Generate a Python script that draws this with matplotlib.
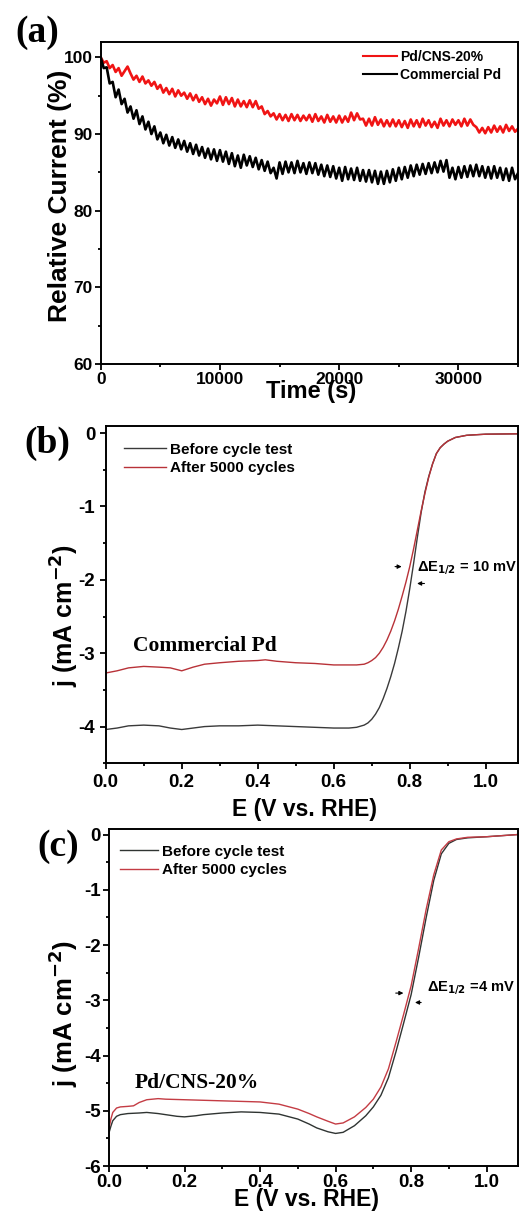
import numpy as np
import matplotlib
matplotlib.use('Agg')
import matplotlib.pyplot as plt
from matplotlib.ticker import MultipleLocator
from matplotlib.lines import Line2D

plt.rcParams['font.family'] = ['Liberation Sans', 'DejaVu Sans']
plt.rcParams['font.weight'] = 'bold'
plt.rcParams['axes.labelweight'] = 'bold'
plt.rcParams['axes.unicode_minus'] = False
plt.rcParams['mathtext.default'] = 'bf'

# (a) chronoamperometry, sampled every 250 s
time_step = 250
red_current = [
    100.0, 99.3, 99.5, 98.6, 99.0, 98.1, 98.6, 97.6, 98.2, 98.8,
    97.9, 97.1, 97.6, 96.8, 97.5, 96.6, 97.0, 96.3, 96.8, 95.9,
    96.4, 95.4, 96.0, 95.2, 95.9, 94.9, 95.7, 95.0, 95.4, 94.6,
    95.3, 94.4, 95.1, 94.2, 94.8, 93.9, 94.6, 93.7, 94.5, 94.0,
    94.9, 93.8, 94.8, 93.9, 94.7, 93.6, 94.5, 93.6, 94.3, 93.5,
    94.4, 93.5, 94.3, 93.3, 93.6, 92.6, 93.0, 92.3, 92.7, 91.9,
    92.6, 91.8, 92.5, 91.7, 92.6, 91.8, 92.5, 91.7, 92.4, 91.8,
    92.5, 91.6, 92.6, 91.7, 92.3, 91.5, 92.5, 91.6, 92.3, 91.5,
    92.4, 91.5, 92.3, 91.6, 92.8, 91.8, 92.7, 91.9, 92.0, 91.1,
    92.0, 91.1, 92.2, 91.2, 91.9, 91.0, 91.8, 91.0, 91.9, 91.0,
    91.8, 90.9, 91.7, 90.8, 91.9, 91.0, 91.8, 90.9, 92.0, 91.1,
    91.8, 90.9, 91.6, 90.8, 92.0, 91.1, 91.8, 91.0, 91.9, 91.2,
    91.8, 91.0, 92.0, 91.1, 91.9, 91.2, 90.9, 90.2, 90.8, 90.1,
    90.9, 90.2, 91.1, 90.3, 91.0, 90.2, 91.2, 90.4, 91.0, 90.3,
    90.7,
]
black_current = [
    100.0, 98.6, 98.7, 96.6, 96.8, 94.8, 95.8, 93.9, 94.6, 92.8,
    93.6, 92.0, 93.1, 91.3, 92.3, 90.6, 91.6, 90.0, 91.0, 89.3,
    90.2, 88.8, 89.9, 88.5, 89.6, 88.2, 89.3, 88.0, 89.1, 87.7,
    88.8, 87.4, 88.6, 87.2, 88.3, 86.9, 88.1, 86.7, 88.0, 86.5,
    87.9, 86.4, 87.7, 86.1, 87.5, 85.8, 87.2, 85.6, 87.3, 85.9,
    87.1, 85.7, 86.9, 85.4, 86.6, 85.2, 86.4, 84.9, 85.6, 84.2,
    86.3, 84.8, 86.4, 85.0, 86.3, 84.9, 86.5, 85.0, 86.2, 84.8,
    86.3, 84.9, 86.2, 84.7, 86.0, 84.5, 85.9, 84.4, 85.8, 84.2,
    85.6, 83.9, 85.7, 84.1, 85.5, 84.0, 85.6, 83.9, 85.3, 83.8,
    85.3, 83.7, 85.2, 83.5, 85.1, 83.5, 85.2, 83.7, 85.4, 83.9,
    85.6, 84.1, 85.7, 84.3, 85.9, 84.5, 86.0, 84.7, 86.1, 84.8,
    86.2, 84.9, 86.3, 85.0, 86.5, 85.1, 86.6, 84.3, 85.6, 84.1,
    85.7, 84.3, 85.8, 84.4, 85.9, 84.5, 86.0, 84.5, 85.8, 84.3,
    85.7, 84.2, 85.8, 84.3, 85.6, 84.0, 85.5, 83.9, 85.6, 84.1,
    84.9,
]

# (b) commercial Pd LSV
b_before_E = [0.0, 0.03, 0.06, 0.1, 0.14, 0.17, 0.2, 0.23, 0.26, 0.3,
              0.35, 0.4, 0.45, 0.5, 0.55, 0.6, 0.64, 0.66, 0.68, 0.69,
              0.70, 0.71, 0.72, 0.73, 0.74, 0.75, 0.76, 0.77, 0.78, 0.79,
              0.80, 0.81, 0.82, 0.83, 0.84, 0.85, 0.86, 0.87, 0.88, 0.89,
              0.90, 0.92, 0.95, 1.0, 1.085]
b_before_j = [-4.04, -4.02, -3.99, -3.98, -3.99, -4.02, -4.04, -4.02, -4.00, -3.99,
              -3.99, -3.98, -3.99, -4.00, -4.01, -4.02, -4.02, -4.01, -3.98, -3.95,
              -3.90, -3.83, -3.74, -3.62, -3.48, -3.32, -3.14, -2.93, -2.70, -2.43,
              -2.12, -1.78, -1.42, -1.08, -0.80, -0.59, -0.42, -0.28, -0.20, -0.15,
              -0.11, -0.06, -0.03, -0.015, -0.01]
b_after_E = [0.0, 0.03, 0.06, 0.1, 0.14, 0.17, 0.2, 0.23, 0.26, 0.3,
             0.35, 0.4, 0.42, 0.45, 0.5, 0.55, 0.6, 0.64, 0.66, 0.68,
             0.69, 0.70, 0.71, 0.72, 0.73, 0.74, 0.75, 0.76, 0.77, 0.78,
             0.79, 0.80, 0.81, 0.82, 0.83, 0.84, 0.85, 0.86, 0.87, 0.88,
             0.89, 0.90, 0.92, 0.95, 1.0, 1.085]
b_after_j = [-3.27, -3.24, -3.20, -3.18, -3.19, -3.20, -3.24, -3.19, -3.15, -3.13,
             -3.11, -3.10, -3.09, -3.11, -3.13, -3.14, -3.16, -3.16, -3.16, -3.15,
             -3.13, -3.10, -3.06, -3.00, -2.92, -2.82, -2.70, -2.56, -2.40, -2.22,
             -2.03, -1.82, -1.58, -1.32, -1.06, -0.82, -0.60, -0.42, -0.28, -0.20,
             -0.15, -0.11, -0.06, -0.03, -0.015, -0.01]

# (c) Pd/CNS-20% LSV
c_before_E = [0.0, 0.005, 0.01, 0.02, 0.03, 0.05, 0.08, 0.1, 0.13, 0.15,
              0.18, 0.2, 0.23, 0.25, 0.3, 0.35, 0.4, 0.45, 0.5, 0.53,
              0.55, 0.58, 0.6, 0.62, 0.65, 0.68, 0.7, 0.72, 0.74, 0.76,
              0.78, 0.8, 0.82, 0.84, 0.86, 0.88, 0.9, 0.92, 0.95, 1.0,
              1.083]
c_before_j = [-5.40, -5.28, -5.18, -5.10, -5.07, -5.05, -5.04, -5.03, -5.05, -5.07,
              -5.10, -5.11, -5.09, -5.07, -5.04, -5.02, -5.03, -5.06, -5.15, -5.24,
              -5.31, -5.38, -5.41, -5.39, -5.27, -5.09, -4.93, -4.72, -4.40, -3.93,
              -3.42, -2.90, -2.22, -1.50, -0.83, -0.35, -0.16, -0.09, -0.06, -0.04,
              0.0]
c_after_E = [0.0, 0.005, 0.01, 0.02, 0.03, 0.05, 0.065, 0.08, 0.1, 0.13,
             0.15, 0.2, 0.25, 0.3, 0.35, 0.4, 0.45, 0.5, 0.53, 0.55,
             0.58, 0.6, 0.62, 0.65, 0.68, 0.7, 0.72, 0.74, 0.76, 0.78,
             0.8, 0.82, 0.84, 0.86, 0.88, 0.9, 0.92, 0.95, 1.0, 1.083]
c_after_j = [-5.32, -5.15, -5.03, -4.95, -4.93, -4.92, -4.91, -4.85, -4.80, -4.78,
             -4.79, -4.80, -4.81, -4.82, -4.83, -4.84, -4.88, -4.97, -5.05, -5.11,
             -5.19, -5.24, -5.22, -5.11, -4.94, -4.79, -4.57, -4.24, -3.76, -3.26,
             -2.74, -2.06, -1.35, -0.73, -0.28, -0.13, -0.08, -0.05, -0.04, 0.0]

legend_a = ['Pd/CNS-20%', 'Commercial Pd']
legend_bc = ['Before cycle test', 'After 5000 cycles']


def style_axes(ax, tick_size, pad=2):
    for s in ax.spines.values():
        s.set_linewidth(1.4)
    ax.tick_params(which='both', direction='out', top=False, right=False,
                   width=1.3, labelsize=tick_size, pad=pad)
    ax.tick_params(which='major', length=4)
    ax.tick_params(which='minor', length=2.2)


fig = plt.figure(figsize=(5.2, 12.15), dpi=100)

# ---- (a)
ax = fig.add_axes([0.1937, 0.7004, 0.8025, 0.265])
t = np.arange(len(red_current)) * time_step
ax.plot(t, red_current, color='#f01414', lw=1.9)
ax.plot(t, black_current, color='black', lw=1.9)
ax.set_xlim(0, 35000)
ax.set_ylim(60, 102)
ax.xaxis.set_major_locator(MultipleLocator(10000))
ax.xaxis.set_minor_locator(MultipleLocator(5000))
ax.yaxis.set_major_locator(MultipleLocator(10))
ax.yaxis.set_minor_locator(MultipleLocator(5))
style_axes(ax, 12.5)
ax.set_ylabel('Relative Current (%)', fontsize=19, va='center')
ax.yaxis.set_label_coords(-0.0975, 0.523)
ax.set_xlabel('Time (s)', fontsize=17, va='center')
ax.xaxis.set_label_coords(0.504, -0.085)
h1 = Line2D([], [], color='#f01414', lw=1.5)
h2 = Line2D([], [], color='black', lw=1.5)
ax.legend([h1, h2], legend_a, loc='upper right', bbox_to_anchor=(0.96, 0.975),
          frameon=False, prop={'weight': 'bold', 'size': 10}, handlelength=2.4,
          handletextpad=0.25, labelspacing=0.3, borderpad=0, borderaxespad=0)

# ---- (b)
ax = fig.add_axes([0.2033, 0.3718, 0.793, 0.2778])
ax.plot(b_before_E, b_before_j, color='#3a3a3a', lw=1.0)
ax.plot(b_after_E, b_after_j, color='#b83238', lw=1.0)
ax.set_xlim(0, 1.085)
ax.set_ylim(-4.5, 0.1)
ax.xaxis.set_major_locator(MultipleLocator(0.2))
ax.xaxis.set_minor_locator(MultipleLocator(0.1))
ax.yaxis.set_major_locator(MultipleLocator(1))
ax.yaxis.set_minor_locator(MultipleLocator(0.5))
ax.xaxis.set_major_formatter('{x:.1f}')
ax.yaxis.set_major_formatter('{x:.0f}')
style_axes(ax, 13.5, pad=3.5)
ax.set_ylabel('j (mA cm$^{-2}$)', fontsize=18, va='center')
ax.yaxis.set_label_coords(-0.0987, 0.439)
ax.set_xlabel('E (V vs. RHE)', fontsize=16.5, va='center')
ax.xaxis.set_label_coords(0.483, -0.136)
h1 = Line2D([], [], color='#3a3a3a', lw=1.0)
h2 = Line2D([], [], color='#b83238', lw=1.0)
ax.legend([h1, h2], legend_bc, loc='upper left', bbox_to_anchor=(0.045, 0.95),
          frameon=False, prop={'weight': 'bold', 'size': 11}, handlelength=2.75,
          handletextpad=0.25, labelspacing=0.3, borderpad=0, borderaxespad=0)
ax.text(0.072, -2.9, 'Commercial Pd', fontfamily='Liberation Serif',
        fontweight='bold', fontsize=15.5, va='center', ha='left')
ax.text(0.82, -1.84, 'ΔE$_{1/2}$ = 10 mV', fontsize=10.5, va='center', ha='left')
arrow = dict(arrowstyle='-|>', lw=0.8, color='black', mutation_scale=6)
ax.annotate('', xy=(0.786, -1.82), xytext=(0.754, -1.82), arrowprops=arrow)
ax.annotate('', xy=(0.812, -2.05), xytext=(0.846, -2.05), arrowprops=arrow)

# ---- (c)
ax = fig.add_axes([0.2096, 0.0403, 0.7865, 0.2774])
ax.plot(c_before_E, c_before_j, color='#2f3432', lw=1.0)
ax.plot(c_after_E, c_after_j, color='#c43c44', lw=1.0)
ax.set_xlim(0, 1.083)
ax.set_ylim(-6, 0.1)
ax.xaxis.set_major_locator(MultipleLocator(0.2))
ax.xaxis.set_minor_locator(MultipleLocator(0.1))
ax.yaxis.set_major_locator(MultipleLocator(1))
ax.yaxis.set_minor_locator(MultipleLocator(0.5))
ax.xaxis.set_major_formatter('{x:.1f}')
ax.yaxis.set_major_formatter('{x:.0f}')
style_axes(ax, 13.5)
ax.set_ylabel('j (mA cm$^{-2}$)', fontsize=18.5, va='center')
ax.yaxis.set_label_coords(-0.1125, 0.454)
ax.set_xlabel('E (V vs. RHE)', fontsize=16.5, va='center')
ax.xaxis.set_label_coords(0.483, -0.10)
h1 = Line2D([], [], color='#2f3432', lw=1.0)
h2 = Line2D([], [], color='#c43c44', lw=1.0)
ax.legend([h1, h2], legend_bc, loc='upper left', bbox_to_anchor=(0.027, 0.953),
          frameon=False, prop={'weight': 'bold', 'size': 11}, handlelength=2.5,
          handletextpad=0.25, labelspacing=0.3, borderpad=0, borderaxespad=0)
ax.text(0.069, -4.5, 'Pd/CNS-20%', fontfamily='Liberation Serif',
        fontweight='bold', fontsize=15.5, va='center', ha='left')
ax.text(0.842, -2.78, 'ΔE$_{1/2}$ =4 mV', fontsize=10.5, va='center', ha='left')
ax.annotate('', xy=(0.787, -2.87), xytext=(0.752, -2.87), arrowprops=arrow)
ax.annotate('', xy=(0.803, -3.04), xytext=(0.834, -3.04), arrowprops=arrow)

# panel letters
for label, x, y in [('(a)', 37.5, 32.5), ('(b)', 47.5, 443.5), ('(c)', 58.5, 846)]:
    fig.text(x / 520, 1 - y / 1215, label, fontfamily='Liberation Serif',
             fontweight='bold', fontsize=27, ha='center', va='center')

fig.savefig('out.png', dpi=100)
